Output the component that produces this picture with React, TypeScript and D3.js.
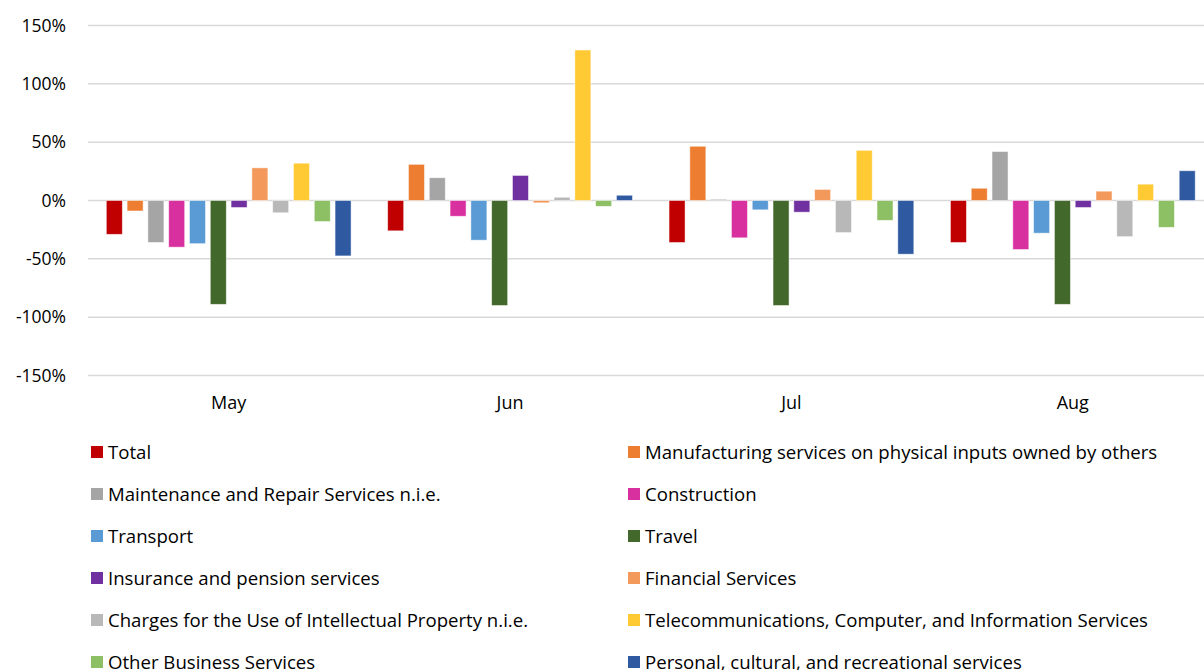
import React, { useEffect, useRef } from 'react';
import * as d3 from 'd3';

const months = ['May', 'Jun', 'Jul', 'Aug'];

const seriesNames = [
  'Total',
  'Manufacturing services on physical inputs owned by others',
  'Maintenance and Repair Services n.i.e.',
  'Construction',
  'Transport',
  'Travel',
  'Insurance and pension services',
  'Financial Services',
  'Charges for the Use of Intellectual Property n.i.e.',
  'Telecommunications, Computer, and Information Services',
  'Other Business Services',
  'Personal, cultural, and recreational services',
];

const seriesColors = [
  '#C00000', '#ED7D31', '#A5A5A5', '#D930A0', '#5B9BD5', '#43682B',
  '#7030A0', '#F4995C', '#B8B8B8', '#FFCA33', '#8DC064', '#2F59A0',
];

// percent change, one value per series, per month
const mayValues = [-29, -9, -36, -40, -37, -89, -6, 28, -10.5, 32, -18, -47.5];
const junValues = [-26, 31, 19.5, -13.5, -34, -90, 21.5, -2, 2.8, 129, -5, 4.5];
const julValues = [-36, 46.5, 1, -32, -8, -90, -10, 9.5, -27.5, 43, -17, -46];
const augValues = [-36, 10.5, 42, -42, -28, -89, -6, 8, -31, 14, -23, 25.5];

const monthValues = [mayValues, junValues, julValues, augValues];

const yTicks = [150, 100, 50, 0, -50, -100, -150];

const FONT = '"Open Sans", "Noto Sans", sans-serif';

const App = () => {
  const svgRef = useRef<SVGSVGElement>(null);

  useEffect(() => {
    const width = 1204;
    const height = 670;

    const svg = d3.select(svgRef.current).attr('width', width).attr('height', height);
    svg.selectAll('*').remove();

    // Scales
    const y = d3.scaleLinear().domain([-150, 150]).range([375.5, 25.5]);
    const x0 = d3.scaleBand().domain(months).range([88, 1213.5]);
    const x1 = d3
      .scaleBand()
      .domain(seriesNames)
      .range([0, x0.bandwidth()])
      .paddingInner(0.23)
      .paddingOuter(0.88);

    // Gridlines
    svg
      .append('g')
      .selectAll('line')
      .data(yTicks)
      .join('line')
      .attr('x1', 88)
      .attr('x2', width)
      .attr('y1', (d) => y(d))
      .attr('y2', (d) => y(d))
      .attr('stroke', '#D9D9D9')
      .attr('stroke-width', 1.5);

    // Y labels
    svg
      .append('g')
      .selectAll('text')
      .data(yTicks)
      .join('text')
      .attr('x', 66)
      .attr('y', (d) => y(d))
      .attr('dy', '0.35em')
      .attr('text-anchor', 'end')
      .attr('font-family', FONT)
      .attr('font-size', 17.5)
      .attr('fill', '#000')
      .text((d) => `${d}%`);

    // Bars
    const groups = svg
      .append('g')
      .selectAll('g')
      .data(months)
      .join('g')
      .attr('transform', (m) => `translate(${x0(m)},0)`);

    groups
      .selectAll('rect')
      .data((m, i) => monthValues[i].map((v, j) => ({ name: seriesNames[j], value: v, color: seriesColors[j] })))
      .join('rect')
      .attr('x', (d) => x1(d.name)!)
      .attr('width', x1.bandwidth())
      .attr('y', (d) => y(Math.max(0, d.value)))
      .attr('height', (d) => Math.abs(y(d.value) - y(0)))
      .attr('fill', (d) => d.color)
      .attr('stroke', '#fff')
      .attr('stroke-opacity', 0.6)
      .attr('stroke-width', 0.8);

    // Month labels
    svg
      .append('g')
      .selectAll('text')
      .data(months)
      .join('text')
      .attr('x', (m) => x0(m)! + x0.bandwidth() / 2)
      .attr('y', 403)
      .attr('dy', '0.35em')
      .attr('text-anchor', 'middle')
      .attr('font-family', FONT)
      .attr('font-size', 18)
      .attr('fill', '#000')
      .text((m) => m);

    // Legend, two columns
    const legend = svg
      .append('g')
      .selectAll('g')
      .data(seriesNames)
      .join('g')
      .attr('transform', (d, i) => `translate(${i % 2 === 0 ? 91 : 628},${452 + Math.floor(i / 2) * 42})`);

    legend
      .append('rect')
      .attr('x', 0)
      .attr('y', -6)
      .attr('width', 12)
      .attr('height', 12)
      .attr('fill', (d, i) => seriesColors[i]);

    legend
      .append('text')
      .attr('x', 17)
      .attr('y', 0)
      .attr('dy', '0.35em')
      .attr('font-family', FONT)
      .attr('font-size', 18.6)
      .attr('fill', '#000')
      .text((d) => d);
  }, []);

  return <svg ref={svgRef} style={{ position: 'absolute', left: 0, top: 0, display: 'block' }}></svg>;
};

export default App;
